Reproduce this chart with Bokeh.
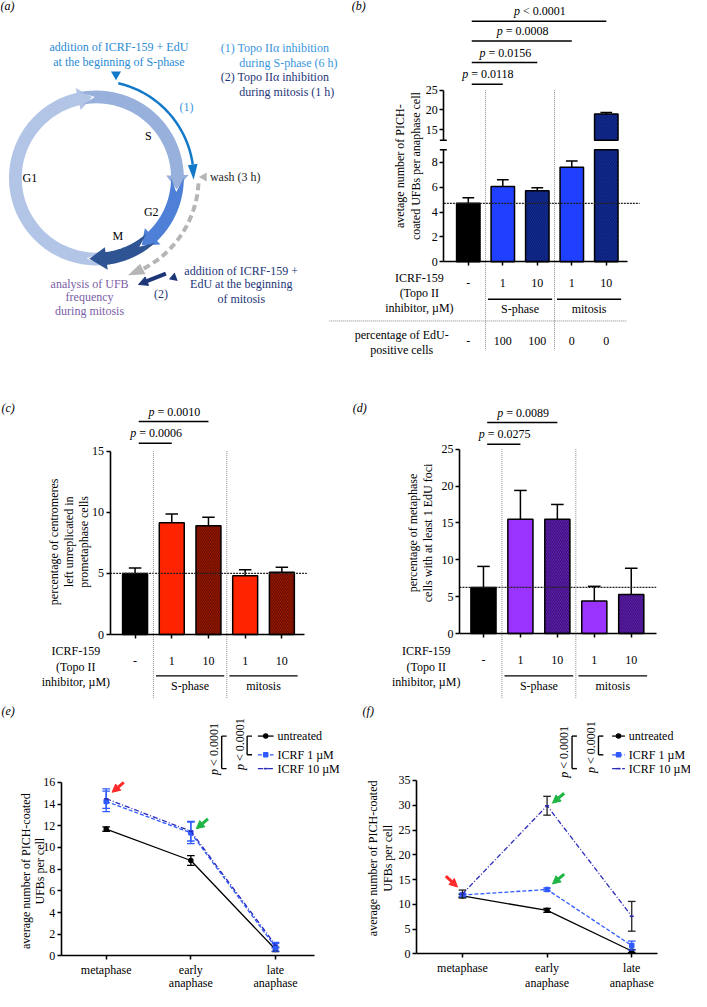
import numpy as np
from bokeh.plotting import figure
from bokeh.models import Range1d, LinearAxis, FixedTicker, Arrow, NormalHead
from bokeh.core.properties import value
from bokeh.embed import file_html
from bokeh.resources import INLINE

W, H = 690, 990
SERIF = "Liberation Serif, Times New Roman, Times, Nimbus Roman, DejaVu Serif, serif"

# ---------------- data ----------------
doses = ["-", "1", "10", "1", "10"]
hatched = [False, False, True, False, True]
phase_groups = ["S-phase", "mitosis"]
group_centers = [1.5, 3.5]

b_mean = [4.7, 6.05, 5.7, 7.6, 19.0]
b_sem = [0.45, 0.55, 0.25, 0.5, 0.35]
b_edu_pct = ["-", "100", "100", "0", "0"]
b_p_text = ["= 0.0118", "= 0.0156", "= 0.0008", "< 0.0001"]
b_p_target = [1, 2, 3, 4]

c_mean = [5.0, 9.15, 8.9, 4.8, 5.1]
c_sem = [0.45, 0.7, 0.7, 0.5, 0.4]
c_p_text = ["= 0.0006", "= 0.0010"]
c_p_target = [1, 2]

d_mean = [6.25, 15.5, 15.5, 4.4, 5.3]
d_sem = [2.85, 3.9, 2.0, 2.0, 3.55]
d_p_text = ["= 0.0275", "= 0.0089"]
d_p_target = [1, 2]

stages_line1 = ["metaphase", "early", "late"]
stages_line2 = ["", "anaphase", "anaphase"]
series_names = ["untreated", "ICRF 1 \u00b5M", "ICRF 10 \u00b5M"]
legend_p = "< 0.0001"

e_untreated = [11.7, 8.8, 0.6]
e_untreated_sem = [0.2, 0.45, 0.2]
e_icrf1 = [14.25, 11.35, 0.8]
e_icrf1_sem = [0.95, 1.0, 0.35]
e_icrf10 = [14.5, 11.5, 1.0]
e_icrf10_sem = [0.9, 0.9, 0.25]

f_untreated = [11.7, 8.8, 0.6]
f_untreated_sem = [0.3, 0.4, 0.3]
f_icrf1 = [11.9, 13.0, 1.7]
f_icrf1_sem = [0.35, 0.3, 0.9]
f_icrf10 = [12.1, 29.9, 7.6]
f_icrf10_sem = [0.8, 1.9, 3.0]

# ---------------- layout helpers ----------------
SX = 688 / 703.0
SY = 988 / 1002.0


def X(rx):
    return (rx - 2) * SX


def Y(ry):
    return H - (ry - 2) * SY


def rng(v0, c0, v1, c1, total):
    s = (c1 - c0) / (v1 - v0)
    return Range1d(v0 - c0 / s, v0 + (total - c0) / s)


def inv(r, c, total):
    return r.start + c * (r.end - r.start) / total


p = figure(width=W, height=H, x_range=Range1d(0, W), y_range=Range1d(0, H),
           x_axis_type=None, y_axis_type=None, toolbar_location=None,
           output_backend="svg", min_border=0, outline_line_color=None,
           background_fill_color="white", border_fill_color="white")

XR = {
    "bx": rng(0, X(480), 4, X(621), W),
    "cx": rng(0, X(139.5), 4, X(289.5), W),
    "dx": rng(0, X(495.5), 4, X(646.5), W),
    "ex": rng(0, X(110), 2, X(283), W),
    "fx": rng(0, X(474), 2, X(647), W),
}
YR = {
    "bylo": rng(0, Y(267), 8, Y(166), H),
    "byhi": rng(15, Y(133), 25, Y(93), H),
    "cy": rng(0, Y(645), 15, Y(459), H),
    "dy": rng(0, Y(644), 25, Y(457), H),
    "ey": rng(0, Y(971), 16, Y(795), H),
    "fy": rng(0, Y(969), 35, Y(793), H),
}
p.extra_x_ranges = XR
p.extra_y_ranges = YR


def xd(name, rx):
    return inv(XR[name], X(rx), W)


def txt(x, y, s, size=12, color="black", align="center", angle=0.0, style="normal",
        xr="default", yr="default", xo=0, baseline="middle"):
    p.text(x=[x], y=[y], text=[s], x_range_name=xr, y_range_name=yr,
           text_font=value(SERIF), text_font_size=f"{size}px", text_color=color,
           text_align=align, text_baseline=baseline, angle=angle,
           text_font_style=style, x_offset=xo)


def seg(x0, y0, x1, y1, color="black", width=1.5, dash="solid", xr="default", yr="default"):
    p.segment(x0=[x0], y0=[y0], x1=[x1], y1=[y1], line_color=color, line_width=width,
              line_dash=dash, x_range_name=xr, y_range_name=yr)


def style_axis(ax, size=12, standoff=2):
    ax.axis_line_width = 1.6
    ax.axis_line_color = "black"
    ax.major_tick_line_width = 1.5
    ax.major_tick_line_color = "black"
    ax.major_tick_in = 0
    ax.major_tick_out = 4
    ax.minor_tick_in = 0
    ax.minor_tick_out = 0
    ax.major_label_text_font = SERIF
    ax.major_label_text_font_size = f"{size}px"
    ax.major_label_text_color = "black"
    ax.major_label_standoff = standoff


def yaxis(xr, yr, loc, bounds, ticks):
    ax = LinearAxis(x_range_name=xr, y_range_name=yr, fixed_location=loc, bounds=bounds,
                    ticker=FixedTicker(ticks=ticks, minor_ticks=[]))
    style_axis(ax)
    p.add_layout(ax, "left")


def xaxis(xr, yr, loc, bounds, labels, standoff):
    ticks = list(range(len(labels)))
    ax = LinearAxis(x_range_name=xr, y_range_name=yr, fixed_location=loc, bounds=bounds,
                    ticker=FixedTicker(ticks=ticks, minor_ticks=[]))
    style_axis(ax, standoff=standoff)
    ax.major_label_overrides = {i: lab for i, lab in enumerate(labels)}
    p.add_layout(ax, "below")


def ptext(xmid, y, s, xr, yr="default"):
    txt(xmid, y, "p", xr=xr, yr=yr, align="right", style="italic", xo=-19)
    txt(xmid, y, s, xr=xr, yr=yr, align="left", xo=-16)


# ---------------- panel (a): cell-cycle diagram ----------------
CX, CY = 100, 182
RS = (SX + SY) / 2


def polar(r, a):
    a = np.radians(a)
    return X(CX) + r * RS * np.cos(a), Y(CY) + r * RS * np.sin(a)


def ring_seg(a0, ab, at, notch, color, rin=76, rout=89, wing=5):
    rm = (rin + rout) / 2
    A = np.linspace(a0, ab, 60)
    ox, oy = polar(rout, A)
    xs, ys = list(ox), list(oy)
    for r, a in [(rout + wing, ab), (rm, at), (rin - wing, ab)]:
        x, y = polar(r, a)
        xs.append(x)
        ys.append(y)
    ix, iy = polar(rin, A[::-1])
    xs += list(ix)
    ys += list(iy)
    if notch > 0:
        x, y = polar(rm, a0 - notch)
        xs.append(x)
        ys.append(y)
    p.patch(xs, ys, fill_color=color, line_color=None)


ring_seg(275, 103, 93, 12, "#b3c5e6")
ring_seg(101, 2, -8, 10, "#97b0dc")
ring_seg(0, -46, -56, 10, "#4d80d6")
ring_seg(-48, -83, -95, 10, "#2f5494")

BLUE1 = "#1279c9"
NAVY = "#1d3677"
GREY = "#b5b5b5"

A = np.linspace(77, 8, 60)
ax_, ay_ = polar(99, A)
p.line(ax_, ay_, line_color=BLUE1, line_width=2.5)
hx, hy = zip(polar(104, 8), polar(99, -1), polar(94, 8))
p.patch(list(hx), list(hy), fill_color=BLUE1, line_color=None)
p.scatter([X(120)], [Y(77)], marker="inverted_triangle", size=10, fill_color=BLUE1, line_color=None)

A = np.linspace(-3, -64, 60)
gx, gy = polar(104, A)
p.line(gx, gy, line_color=GREY, line_width=4, line_dash="7 4")
hx, hy = zip(polar(110, -63), polar(104, -72), polar(98, -63))
p.patch(list(hx), list(hy), fill_color=GREY, line_color=None)
p.scatter([X(210)], [Y(181)], marker="triangle", angle=np.pi / 2, size=9, fill_color=GREY, line_color=None)

p.add_layout(Arrow(x_start=X(171), y_start=Y(279), x_end=X(143), y_end=Y(290),
                   line_color=NAVY, line_width=4,
                   end=NormalHead(size=9, fill_color=NAVY, line_color=NAVY)))
p.scatter([X(179)], [Y(283)], marker="triangle", angle=np.pi / 2 + 0.35, size=9, fill_color=NAVY, line_color=None)

txt(X(2), Y(8), "(a)", align="left", style="italic")
txt(X(123), Y(49), "addition of ICRF-159 + EdU", color="#2a8ad4")
txt(X(123), Y(64), "at the beginning of S-phase", color="#2a8ad4")
txt(X(227), Y(50), "(1) Topo II\u03b1 inhibition", color="#3a95dd", align="left")
txt(X(246), Y(65), "during S-phase (6 h)", color="#3a95dd", align="left")
txt(X(227), Y(80), "(2) Topo II\u03b1 inhibition", color=NAVY, align="left")
txt(X(246), Y(95), "during mitosis (1 h)", color=NAVY, align="left")
txt(X(192), Y(110), "(1)", color="#3a95dd")
txt(X(153), Y(139), "S")
txt(X(32), Y(182), "G1")
txt(X(156), Y(216), "G2")
txt(X(122), Y(241), "M")
txt(X(216), Y(181), "wash (3 h)", align="left", color="#222222")
txt(X(248), Y(276), "addition of ICRF-159 +", color=NAVY)
txt(X(248), Y(290), "EdU at the beginning", color=NAVY)
txt(X(248), Y(305), "of mitosis", color=NAVY)
txt(X(166), Y(300), "(2)", color=NAVY)
txt(X(93), Y(290), "analysis of UFB", color="#7b5ea6")
txt(X(93), Y(303), "frequency", color="#7b5ea6")
txt(X(93), Y(317), "during mitosis", color="#7b5ea6")


# ---------------- bar panels ----------------
def bar_colors(solid, hbase):
    fills = ["black" if i == 0 else (hbase if hatched[i] else solid) for i in range(len(doses))]
    hp = ["left_diagonal_line" if hatched[i] else "blank" for i in range(len(doses))]
    return fills, hp


def draw_bars(xr, yr, means, sems, solid, hbase, hcol, width, cap,
              clip=None, yr_hi=None, hi_bottom=None):
    idx = np.arange(len(means), dtype=float)
    m = np.asarray(means, float)
    s = np.asarray(sems, float)
    fills, hp = bar_colors(solid, hbase)
    kw = dict(width=width, line_color="black", line_width=1.5, hatch_color=hcol,
              hatch_scale=3.5, hatch_weight=0.9, x_range_name=xr)
    top = m if clip is None else np.minimum(m, clip)
    p.vbar(x=idx, top=top, bottom=0, fill_color=fills, hatch_pattern=hp, y_range_name=yr, **kw)
    lo = np.ones(len(m), bool) if clip is None else (m <= clip)
    p.segment(x0=idx[lo], y0=m[lo], x1=idx[lo], y1=(m + s)[lo], line_color="black",
              line_width=1.5, x_range_name=xr, y_range_name=yr)
    p.segment(x0=idx[lo] - cap, y0=(m + s)[lo], x1=idx[lo] + cap, y1=(m + s)[lo],
              line_color="black", line_width=1.5, x_range_name=xr, y_range_name=yr)
    if clip is not None:
        hi = ~lo
        p.vbar(x=idx[hi], top=m[hi], bottom=hi_bottom,
               fill_color=[f for f, h in zip(fills, hi) if h],
               hatch_pattern=[q for q, h in zip(hp, hi) if h], y_range_name=yr_hi, **kw)
        p.segment(x0=idx[hi], y0=m[hi], x1=idx[hi], y1=(m + s)[hi], line_color="black",
                  line_width=1.5, x_range_name=xr, y_range_name=yr_hi)
        p.segment(x0=idx[hi] - cap, y0=(m + s)[hi], x1=idx[hi] + cap, y1=(m + s)[hi],
                  line_color="black", line_width=1.5, x_range_name=xr, y_range_name=yr_hi)


def bar_panel(xr, yr, means, sems, solid, hbase, hcol, ax_rx, right_rx, refline_rx,
              top_ry, bottom_ry, label_rx, label_ry, yticks, ybounds, standoff,
              p_texts, p_targets, p_line_ry, group_ry, ylabels, ylab_rx, ylab_ry,
              clip=None, yr_hi=None, hi_bounds=None, hi_ticks=None):
    loc = xd(xr, ax_rx)
    xb = (loc, xd(xr, right_rx))
    cap = 0.17
    draw_bars(xr, yr, means, sems, solid, hbase, hcol, 0.68, cap, clip=clip, yr_hi=yr_hi,
              hi_bottom=None if hi_bounds is None else hi_bounds[0])
    seg(loc, means[0], xd(xr, refline_rx), means[0], color="#222222", width=1.3, dash="2 1",
        xr=xr, yr=yr)
    for gx in [0.5, 2.5]:
        seg(gx, Y(top_ry), gx, Y(bottom_ry), color="#8a8a8a", width=1, dash="1 1", xr=xr)
    yaxis(xr, yr, loc, ybounds, yticks)
    if yr_hi is not None:
        yaxis(xr, yr_hi, loc, hi_bounds, hi_ticks)
        seg(X(ax_rx) - 4, ybounds[1], X(ax_rx) + 3, ybounds[1], width=1.6, yr=yr)
        seg(X(ax_rx) - 4, hi_bounds[0], X(ax_rx) + 3, hi_bounds[0], width=1.6, yr=yr_hi)
    xaxis(xr, yr, 0, xb, doses, standoff)
    for s, t, ly in zip(p_texts, p_targets, p_line_ry):
        seg(0.1, Y(ly), t, Y(ly), width=1.5, xr=xr)
        ptext((0.1 + t) / 2, Y(ly - 10), s, xr)
    for k, line in enumerate(["ICRF-159", "(Topo II", "inhibitor, \u00b5M)"]):
        txt(X(label_rx), Y(label_ry + 15.5 * k), line)
    for g, gc in zip(phase_groups, group_centers):
        seg(gc - 0.93, Y(group_ry), gc + 0.93, Y(group_ry), width=1.3, xr=xr)
        txt(gc, Y(group_ry + 10), g, xr=xr)
    for k, line in enumerate(ylabels):
        txt(X(ylab_rx[k]), Y(ylab_ry), line, angle=np.pi / 2, size=12)


# panel (b)
txt(X(361), Y(8), "(b)", align="left", style="italic")
bar_panel("bx", "bylo", b_mean, b_sem, "#1f40ff", "#1934b0", "#06185e",
          455, 643, 655, 93, 357, 430, 283, [0, 2, 4, 6, 8], (0, 9), 13,
          b_p_text, b_p_target, [87, 65, 43, 23], 305,
          ["avetage number of PICH-", "coated UFBs per anaphase cell"], [410, 427], 170,
          clip=9, yr_hi="byhi", hi_bounds=(12.3, 25), hi_ticks=[15, 20, 25])
seg(X(338), Y(327), X(642), Y(327), color="#8a8a8a", width=1, dash="1 1")
txt(X(412), Y(341), "percentage of EdU-")
txt(X(412), Y(356), "positive cells")
for i, v in enumerate(b_edu_pct):
    txt(i, Y(347), v, xr="bx")

# panel (c)
txt(X(3), Y(415), "(c)", align="left", style="italic")
bar_panel("cx", "cy", c_mean, c_sem, "#ff2400", "#c01f05", "#4a0800",
          114, 313, 315, 459, 710, 79, 662, [0, 5, 10, 15], (0, 15), 18,
          c_p_text, c_p_target, [451, 429], 687,
          ["percentage of centromeres", "left unreplicated in", "prometaphase cells"],
          [57, 72, 87], 551)

# panel (d)
txt(X(362), Y(415), "(d)", align="left", style="italic")
bar_panel("dx", "dy", d_mean, d_sem, "#9b33ff", "#7426d0", "#2e0a60",
          471, 672, 672, 457, 710, 437, 662, [0, 5, 10, 15, 20, 25], (0, 25), 18,
          d_p_text, d_p_target, [452, 430], 687,
          ["percentage of metaphase", "cells with at least 1 EdU foci"], [424, 439], 542)

# ---------------- line panels ----------------
COLS = ["black", "#2f5bff", "#2a2ab8"]
DASH = ["solid", "4 2", "5 2 1 2"]
MARK = ["circle", "square", "dash"]


def line_panel(xr, yr, series, sems, err_cols, ax_rx, right_rx, yticks, ybounds,
               ylabels, ylab_rx, ylab_ry, leg_x0, leg_x1, leg_tx, br_outer_x, br_inner_x,
               pt_outer, pt_inner):
    idx = np.arange(len(stages_line1), dtype=float)
    loc = xd(xr, ax_rx)
    cap = 0.045
    for k, (vals, ss) in enumerate(zip(series, sems)):
        v = np.asarray(vals, float)
        s = np.asarray(ss, float)
        p.line(idx, v, line_color=COLS[k], line_width=1.3, line_dash=DASH[k],
               x_range_name=xr, y_range_name=yr)
        p.segment(x0=idx, y0=v - s, x1=idx, y1=v + s, line_color=err_cols[k], line_width=1.3,
                  x_range_name=xr, y_range_name=yr)
        for sign in (-1, 1):
            p.segment(x0=idx - cap, y0=v + sign * s, x1=idx + cap, y1=v + sign * s,
                      line_color=err_cols[k], line_width=1.3, x_range_name=xr, y_range_name=yr)
        p.scatter(idx, v, marker=MARK[k], size=4, fill_color=COLS[k], line_color=COLS[k],
                  line_width=1.5, x_range_name=xr, y_range_name=yr)
    yaxis(xr, yr, loc, ybounds, yticks)
    xaxis(xr, yr, 0, (loc, xd(xr, right_rx)), stages_line1, 3)
    for i, s2 in enumerate(stages_line2):
        if s2:
            txt(i, Y(998), s2, xr=xr)
    for k, line in enumerate(ylabels):
        txt(X(ylab_rx[k]), Y(ylab_ry), line, angle=np.pi / 2, size=12)
    leg_y = [748, 767, 781]
    for k, name in enumerate(series_names):
        p.line([X(leg_x0), X(leg_x1)], [Y(leg_y[k])] * 2, line_color=COLS[k], line_width=1.3,
               line_dash=DASH[k])
        p.scatter([X((leg_x0 + leg_x1) / 2)], [Y(leg_y[k])], marker=MARK[k], size=4,
                  fill_color=COLS[k], line_color=COLS[k], line_width=1.5)
        txt(X(leg_tx), Y(leg_y[k]), name, align="left")
    for bx, y1, (tx, ty) in [(br_outer_x, 781, pt_outer), (br_inner_x, 767, pt_inner)]:
        seg(X(bx), Y(748), X(bx), Y(y1), width=1.4)
        seg(X(bx), Y(748), X(bx + 5), Y(748), width=1.4)
        seg(X(bx), Y(y1), X(bx + 5), Y(y1), width=1.4)
        txt(X(tx), Y(ty) - 19, "p", angle=np.pi / 2, align="right", style="italic")
        txt(X(tx), Y(ty) - 16, legend_p, angle=np.pi / 2, align="left")


txt(X(3), Y(723), "(e)", align="left", style="italic")
line_panel("ex", "ey", [e_untreated, e_icrf1, e_icrf10],
           [e_untreated_sem, e_icrf1_sem, e_icrf10_sem], ["black", "#2f5bff", "#2f5bff"],
           64, 323, list(range(0, 17, 2)), (0, 16),
           ["average number of PICH-coated", "UFBs per cell"], [28, 42], 885,
           265, 281, 285, 228, 254, (220, 762), (247, 757))

txt(X(372), Y(723), "(f)", align="left", style="italic")
line_panel("fx", "fy", [f_untreated, f_icrf1, f_icrf10],
           [f_untreated_sem, f_icrf1_sem, f_icrf10_sem], ["black", "#2f5bff", "#222222"],
           427, 673, list(range(0, 36, 5)), (0, 35),
           ["average number of PICH-coated", "UFBs per cell"], [383, 398], 872,
           627, 640, 644, 586, 613, (578, 765), (605, 760))

for (x0, y0, x1, y1, c) in [(128, 795, 116, 805, "#ff2a2a"), (214, 832, 202, 842, "#1fb545"),
                            (457, 890, 469, 901, "#ff2a2a"), (578, 806, 566, 816, "#1fb545"),
                            (578, 888, 566, 898, "#1fb545")]:
    p.add_layout(Arrow(x_start=X(x0), y_start=Y(y0), x_end=X(x1), y_end=Y(y1),
                       line_color=c, line_width=3,
                       end=NormalHead(size=8, fill_color=c, line_color=c)))

open("out.html", "w").write(file_html(p, INLINE))
